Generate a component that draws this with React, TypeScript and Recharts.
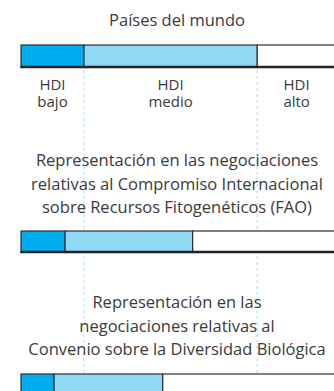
import { BarChart, Bar, XAxis, YAxis, ReferenceLine } from "recharts";

// share of countries per HDI group (percent)
const hdiKeys = ["bajo", "medio", "alto"];
const hdiLabels = ["HDI\nbajo", "HDI\nmedio", "HDI\nalto"];
const worldShares = [20, 55, 25];
const faoShares = [14, 40.5, 45.5];
const cdbShares = [10.5, 34.5, 55];

const titleWorld = "Países del mundo";
const titleFao =
  "Representación en las negociaciones\nrelativas al Compromiso Internacional\nsobre Recursos Fitogenéticos (FAO)";
const titleCdb =
  "Representación en las\nnegociaciones relativas al\nConvenio sobre la Diversidad Biológica";

const colors: Record<string, string> = { bajo: "#00aeef", medio: "#8fd8f6", alto: "#ffffff" };
const FONT = "'Open Sans', sans-serif";
const TEXT = "#3a3a3a";
const CHART_W = 345;
const MARGIN = { left: 21, right: 9 };

function Segment(props: any) {
  const { x, y, width, height, fill } = props;
  if (!width) return null;
  return (
    <g>
      <rect x={x} y={y} width={width} height={height} fill={fill} stroke="#2e2e2e" strokeWidth={1.2} />
      <line x1={x - 0.6} x2={x + width + 0.6} y1={y + height} y2={y + height} stroke="#232323" strokeWidth={2.6} />
    </g>
  );
}

function Strip({ shares, top, h }: { shares: number[]; top: number; h: number }) {
  const row = [{ name: "row", bajo: shares[0], medio: shares[1], alto: shares[2] }];
  return (
    <div style={{ position: "absolute", left: 0, top: top - 2 }}>
      <BarChart
        width={CHART_W}
        height={h + 6}
        data={row}
        layout="vertical"
        barCategoryGap={0}
        margin={{ top: 2, bottom: 4, ...MARGIN }}
      >
        <XAxis type="number" domain={[0, 100]} hide />
        <YAxis type="category" dataKey="name" hide />
        {hdiKeys.map((k) => (
          <Bar key={k} dataKey={k} stackId="a" fill={colors[k]} shape={<Segment />} isAnimationActive={false} />
        ))}
      </BarChart>
    </div>
  );
}

function Caption({ text, top, size = 16.5, lh = 23.5 }: { text: string; top: number; size?: number; lh?: number }) {
  return (
    <div
      style={{
        position: "absolute",
        left: 0,
        width: 354,
        top,
        textAlign: "center",
        whiteSpace: "pre-line",
        fontFamily: FONT,
        fontSize: size,
        lineHeight: `${lh}px`,
        color: TEXT,
      }}
    >
      {text}
    </div>
  );
}

export default function App() {
  const cuts = [worldShares[0], worldShares[0] + worldShares[1]];
  const bounds = [0, ...cuts, 100];
  const plotW = CHART_W - MARGIN.left - MARGIN.right;
  return (
    <div style={{ position: "absolute", left: 0, top: 0, width: 334, height: 391, overflow: "hidden", background: "#fff" }}>
      {/* dashed guides at the world HDI boundaries */}
      <div style={{ position: "absolute", left: 0, top: 0 }}>
        <BarChart width={CHART_W} height={391} data={[{ name: "g", v: 0 }]} layout="vertical" margin={{ top: 69, bottom: 0, ...MARGIN }}>
          <XAxis type="number" domain={[0, 100]} hide />
          <YAxis type="category" dataKey="name" hide />
          <Bar dataKey="v" fill="none" isAnimationActive={false} />
          {cuts.map((c) => (
            <ReferenceLine key={c} x={c} stroke="#c2e7f9" strokeWidth={1.5} strokeDasharray="3 3" />
          ))}
        </BarChart>
      </div>

      <Caption text={titleWorld} top={8} />
      <Strip shares={worldShares} top={45} h={22} />
      {hdiLabels.map((lab, i) => {
        const mid = MARGIN.left + (((bounds[i] + bounds[i + 1]) / 2) * plotW) / 100;
        return (
          <div
            key={lab}
            style={{
              position: "absolute",
              left: mid - 40,
              width: 80,
              top: 76,
              textAlign: "center",
              whiteSpace: "pre-line",
              fontFamily: FONT,
              fontSize: 15,
              lineHeight: "17px",
              color: TEXT,
            }}
          >
            {lab}
          </div>
        );
      })}

      <Caption text={titleFao} top={148} />
      <Strip shares={faoShares} top={230.5} h={21} />

      <Caption text={titleCdb} top={290} />
      <Strip shares={cdbShares} top={374} h={22} />
    </div>
  );
}
